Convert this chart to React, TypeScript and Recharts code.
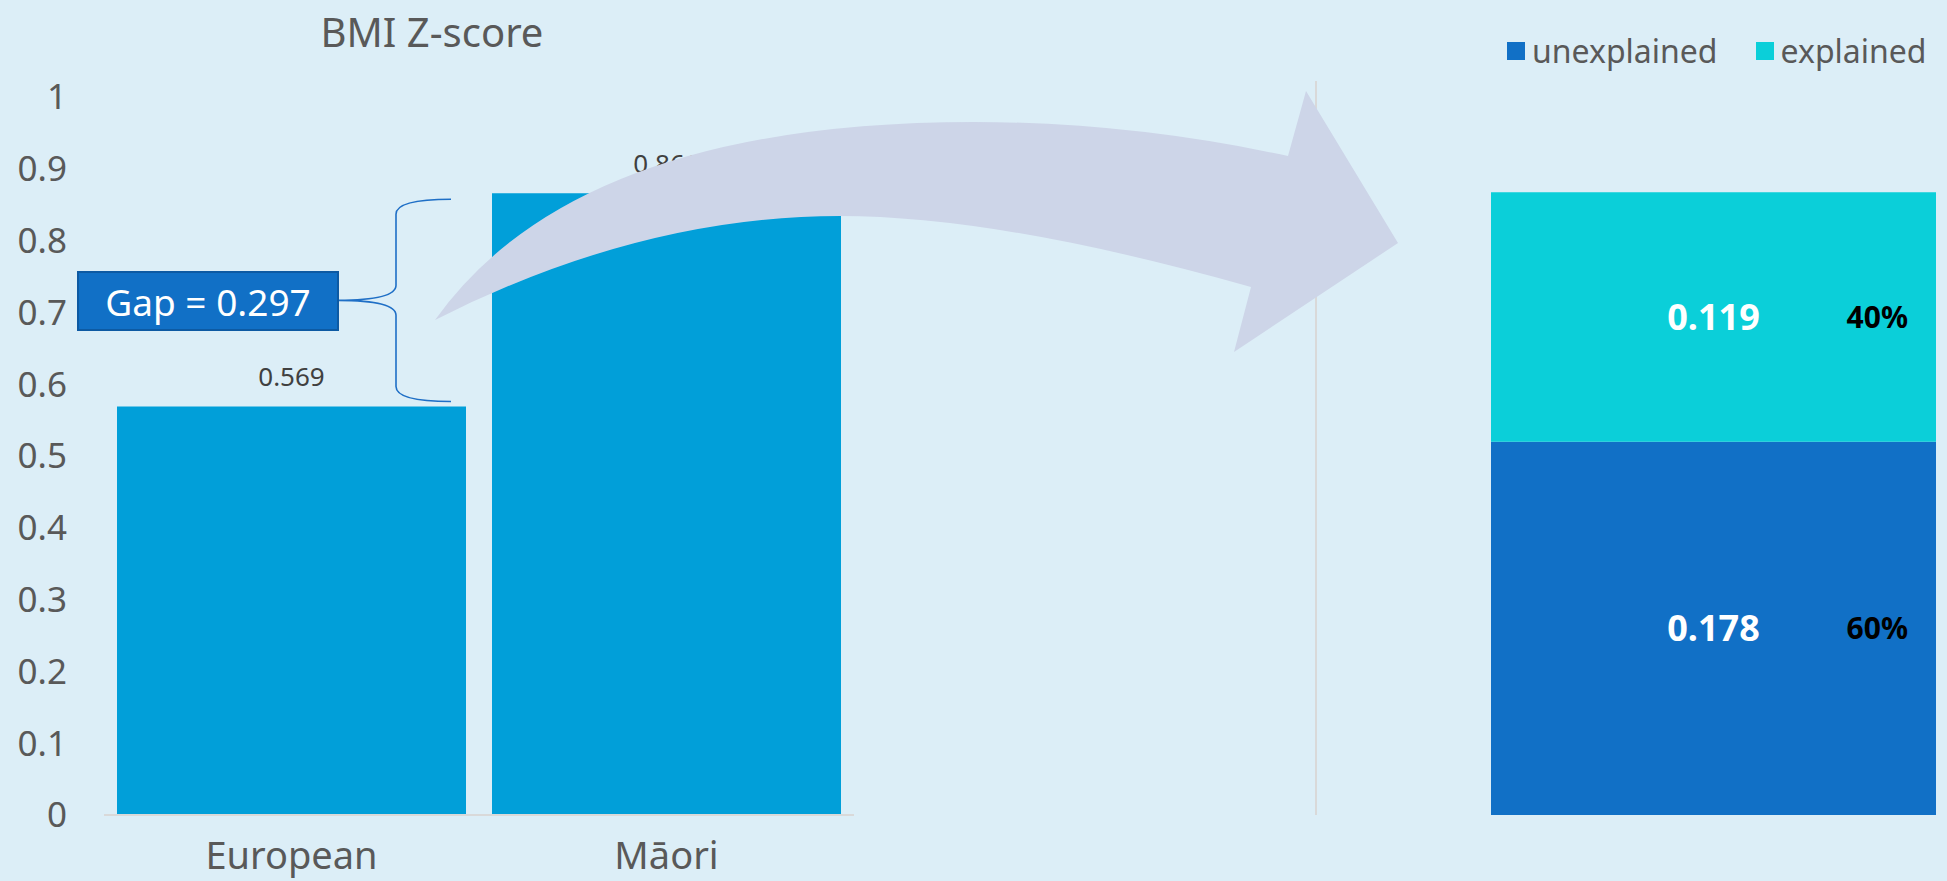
import React from 'react';
import { BarChart, Bar, XAxis, YAxis, LabelList, Legend } from 'recharts';

const categories = ['European', 'Māori'];
const bmiZ = [0.569, 0.866];
const yTicks = [0, 0.1, 0.2, 0.3, 0.4, 0.5, 0.6, 0.7, 0.8, 0.9, 1];
const parts = ['unexplained', 'explained'];
const partValues = [0.178, 0.119];

const FONT = '"Noto Sans", sans-serif';
const GREY = '#595959';
const BG = '#dceef7';
const COLORS: Record<string, string> = { unexplained: '#1170c6', explained: '#0bcfd9' };

const leftData = categories.map((c, i) => ({ name: c, value: bmiZ[i] }));
const rightRow: Record<string, any> = { name: 'gap' };
parts.forEach((p, i) => { rightRow[p] = partValues[i]; });
const rightData = [rightRow];
const total = partValues.reduce((s, v) => s + v, 0);
const pct = (v: any) => `${Math.round((Number(v) / total) * 100)}%`;
const gap = (bmiZ[1] - bmiZ[0]).toFixed(3);

// left plot geometry (used for the brace annotation)
const L_TOP = 97, L_BOTTOM = 815;
const yPx = (v: number) => L_BOTTOM - v * (L_BOTTOM - L_TOP);

function LegendBox({ payload }: any) {
  const items = [...(payload || [])].sort((a: any, b: any) => parts.indexOf(a.value) - parts.indexOf(b.value));
  return (
    <div style={{ display: 'flex', alignItems: 'center', fontFamily: FONT, fontSize: 32, color: GREY, whiteSpace: 'nowrap' }}>
      {items.map((p: any) => (
        <div key={p.value} style={{ display: 'flex', alignItems: 'center', marginRight: 38 }}>
          <span style={{ width: 18, height: 18, background: p.color, marginRight: 7, display: 'inline-block' }} />
          {p.value}
        </div>
      ))}
    </div>
  );
}

export default function App() {
  const yTop = yPx(bmiZ[1]) + 6, yBot = yPx(bmiZ[0]) - 5, yMid = (yTop + yBot) / 2;
  return (
    <div style={{ position: 'absolute', left: 0, top: 0, width: 1947, height: 881, background: BG, overflow: 'hidden' }}>
      <div style={{ position: 'absolute', left: 0, top: 0 }}>
        <BarChart width={880} height={881} data={leftData} margin={{ top: L_TOP, right: 26, bottom: 0, left: 0 }} barCategoryGap={13}>
          <XAxis dataKey="name" height={66} tickLine={false} tickSize={0} tickMargin={27} axisLine={{ stroke: '#d9d9d9', strokeWidth: 2 }}
            tick={{ fontSize: 38, fill: GREY, fontFamily: FONT }} />
          <YAxis domain={[0, 1]} ticks={yTicks} width={104} axisLine={false} tickLine={false} tickSize={0} tickMargin={37}
            tickFormatter={(v: number) => String(v)} tick={{ fontSize: 35, fill: GREY, fontFamily: FONT }} />
          <Bar dataKey="value" fill="#019fd9" isAnimationActive={false}>
            <LabelList dataKey="value" position="top" offset={20} fill="#404040" fontSize={26} fontFamily={FONT} />
          </Bar>
        </BarChart>
      </div>

      <div style={{ position: 'absolute', left: 1315, top: 0 }}>
        <BarChart width={632} height={881} data={rightData} margin={{ top: 81, right: 0, bottom: 66, left: 0 }} barCategoryGap={0}>
          <XAxis dataKey="name" hide padding={{ left: 175, right: 11 }} />
          <YAxis domain={[0, 0.35]} width={1} tick={false} tickLine={false} axisLine={{ stroke: '#d9d9d9', strokeWidth: 2 }} />
          <Legend layout="vertical" align="center" verticalAlign="middle" content={<LegendBox />}
            wrapperStyle={{ top: 29, left: 192, width: 460, height: 44 }} />
          {parts.map(p => (
            <Bar key={p} dataKey={p} name={p} stackId="d" fill={COLORS[p]} isAnimationActive={false}>
              <LabelList dataKey={p} position="center" fill="#ffffff" fontSize={36} fontWeight="bold" fontFamily={FONT} />
              <LabelList dataKey={p} position="insideRight" offset={28} formatter={pct} fill="#000000" fontSize={30} fontWeight="bold" fontFamily={FONT} />
            </Bar>
          ))}
        </BarChart>
      </div>

      <svg width={1947} height={881} style={{ position: 'absolute', left: 0, top: 0, pointerEvents: 'none' }}>
        <text x={432} y={47} textAnchor="middle" fontFamily={FONT} fontSize={40} fill={GREY}>BMI Z-score</text>
        <path d={`M 451 ${yTop} Q 396 ${yTop} 396 ${yTop + 15} L 396 ${yMid - 15} Q 396 ${yMid} 338 ${yMid} Q 396 ${yMid} 396 ${yMid + 15} L 396 ${yBot - 15} Q 396 ${yBot} 451 ${yBot}`}
          fill="none" stroke="#1f6fc6" strokeWidth={1.6} />
        <rect x={78} y={272} width={260} height={58} fill="#1170c6" stroke="#0d5aa3" strokeWidth={2} />
        <text x={208} y={301} textAnchor="middle" dominantBaseline="central" fontFamily={FONT} fontSize={37} fill="#ffffff">{`Gap = ${gap}`}</text>
        <path d="M 435 320 Q 576 122 974 122 Q 1130 122 1288 156 L 1306 91 L 1398 243 L 1234 352 L 1251 287 Q 1000 216 840 216 Q 640 216 435 320 Z"
          fill="#cdd5e8" />
      </svg>
    </div>
  );
}
